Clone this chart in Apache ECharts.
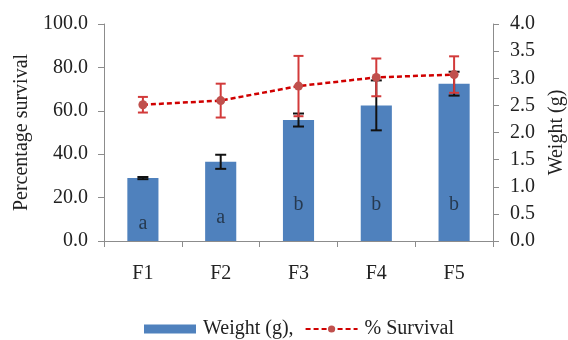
<!DOCTYPE html>
<html>
<head>
<meta charset="utf-8">
<script src="https://cdn.jsdelivr.net/npm/echarts@6/dist/echarts.min.js"></script>
<style>
  html, body { margin: 0; padding: 0; background: #fff; }
  #main { width: 568px; height: 340px; }
</style>
</head>
<body>
<div id="main"></div>
<script>
// data
let categories = ['F1', 'F2', 'F3', 'F4', 'F5'];
let weight = [1.16, 1.46, 2.23, 2.50, 2.90];        // g, bars (right axis)
let weightErr = [0.02, 0.13, 0.12, 0.46, 0.22];
let survival = [62.8, 64.7, 71.4, 75.4, 76.7];      // %, line (left axis)
let survivalErr = [3.6, 7.8, 13.9, 8.7, 8.4];
let letters = ['a', 'a', 'b', 'b', 'b'];
let letterY = [0.31, 0.42, 0.66, 0.66, 0.66];       // weight units

let font = 'Liberation Serif, Times New Roman, serif';
let axisColor = '#8c8c8c';
let textColor = '#222';

let chart = echarts.init(document.getElementById('main'));

function errData(vals, errs) {
  return vals.map(function (v, i) {
    return [i, v - errs[i], v + errs[i]];
  });
}

function errRender(color, capW) {
  return function (params, api) {
    let x = api.value(0);
    let lo = api.coord([x, api.value(1)]);
    let hi = api.coord([x, api.value(2)]);
    let style = { stroke: color, lineWidth: 2 };
    return {
      type: 'group',
      children: [
        { type: 'line', shape: { x1: lo[0], y1: lo[1], x2: hi[0], y2: hi[1] }, style: style },
        { type: 'line', shape: { x1: lo[0] - capW / 2, y1: lo[1], x2: lo[0] + capW / 2, y2: lo[1] }, style: style },
        { type: 'line', shape: { x1: hi[0] - capW / 2, y1: hi[1], x2: hi[0] + capW / 2, y2: hi[1] }, style: style }
      ]
    };
  };
}

let yAxisCommon = {
  type: 'value',
  splitLine: { show: false },
  axisLine: { show: true, lineStyle: { color: axisColor, width: 1 } },
  axisTick: { show: true, inside: false, length: 6, lineStyle: { color: axisColor } },
  nameLocation: 'middle',
  nameRotate: 90,
  nameTextStyle: { fontFamily: font, fontSize: 20, color: textColor }
};

let option = {
  animation: false,
  grid: { left: 104, right: 75, top: 24, bottom: 99, outerBoundsMode: 'none' },
  legend: {
    top: 318,
    left: 144,
    padding: 0,
    itemWidth: 52,
    itemHeight: 9,
    itemGap: 11,
    data: [{ name: 'Weight (g)', icon: 'rect' }, { name: '% Survival' }],
    formatter: function (name) {
      return name === 'Weight (g)' ? 'Weight (g),' : name;
    },
    textStyle: { fontFamily: font, fontSize: 20, lineHeight: 22, color: textColor, padding: [0, 0, 0, 2] }
  },
  xAxis: {
    type: 'category',
    data: categories,
    boundaryGap: true,
    axisLine: { show: true, lineStyle: { color: axisColor } },
    axisTick: { show: true, length: 6, alignWithLabel: false, lineStyle: { color: axisColor } },
    axisLabel: { fontFamily: font, fontSize: 20, color: textColor, margin: 23 }
  },
  yAxis: [
    Object.assign({}, yAxisCommon, {
      name: 'Percentage survival',
      nameGap: 71,
      min: 0, max: 100, interval: 20,
      axisLabel: {
        fontFamily: font, fontSize: 20, color: textColor, margin: 16,
        formatter: function (v) { return v.toFixed(1); }
      }
    }),
    Object.assign({}, yAxisCommon, {
      name: 'Weight (g)',
      nameGap: 54,
      position: 'right',
      min: 0, max: 4, interval: 0.5,
      axisLabel: {
        fontFamily: font, fontSize: 20, color: textColor, margin: 17,
        formatter: function (v) { return v.toFixed(1); }
      }
    })
  ],
  series: [
    {
      name: 'Weight (g)',
      type: 'bar',
      yAxisIndex: 1,
      data: weight,
      barWidth: '40%',
      itemStyle: { color: '#4F81BD' },
      z: 2
    },
    {
      name: 'weightErr',
      type: 'custom',
      yAxisIndex: 1,
      data: errData(weight, weightErr),
      encode: { x: 0, y: [1, 2] },
      renderItem: errRender('#111', 11),
      z: 3
    },
    {
      name: 'letters',
      type: 'scatter',
      yAxisIndex: 1,
      data: letterY,
      symbolSize: 0,
      label: {
        show: true,
        position: 'inside',
        fontFamily: font,
        fontSize: 20,
        color: '#1c2733',
        formatter: function (p) { return letters[p.dataIndex]; }
      },
      z: 3
    },
    {
      name: 'survivalErr',
      type: 'custom',
      yAxisIndex: 0,
      data: errData(survival, survivalErr),
      encode: { x: 0, y: [1, 2] },
      renderItem: errRender('#D23A3A', 10),
      z: 4
    },
    {
      name: '% Survival',
      type: 'line',
      yAxisIndex: 0,
      data: survival,
      symbol: 'circle',
      symbolSize: 9,
      itemStyle: { color: '#C0504D' },
      lineStyle: { color: '#D00000', width: 2.5, type: [5, 3] },
      z: 5
    }
  ]
};

chart.setOption(option);
</script>
</body>
</html>
